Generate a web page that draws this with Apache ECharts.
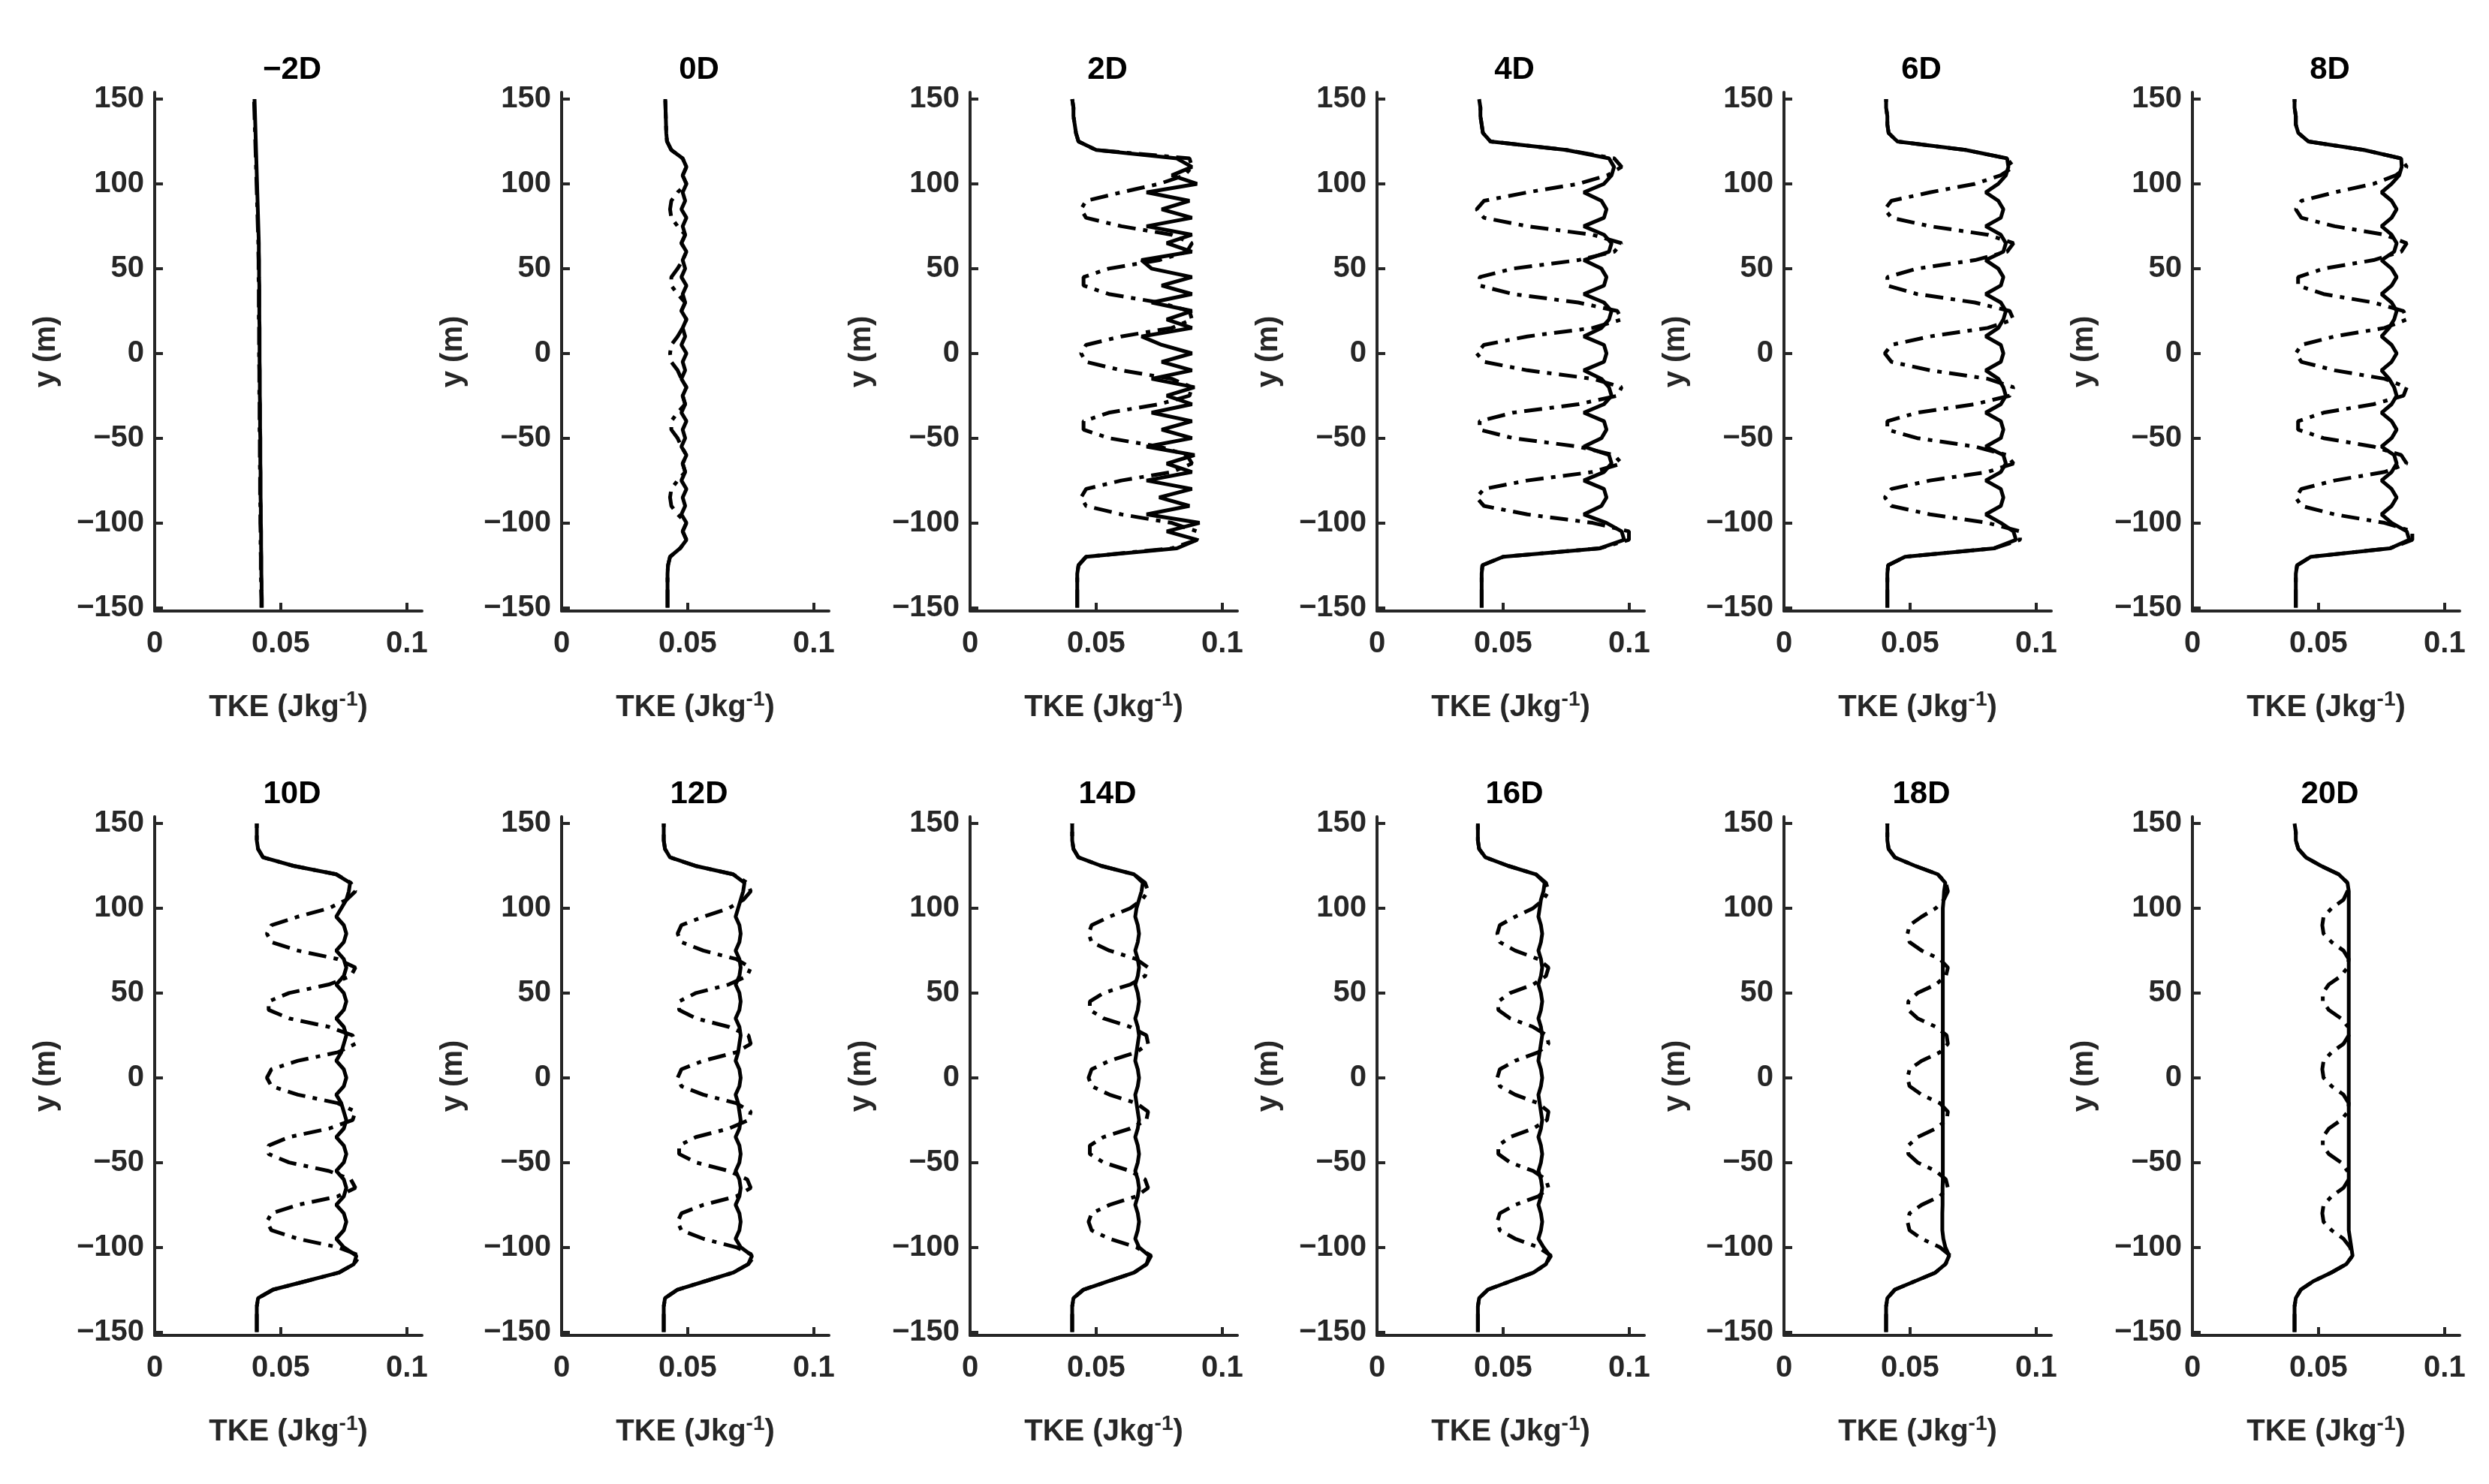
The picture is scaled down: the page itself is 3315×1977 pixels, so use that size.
<!DOCTYPE html>
<html><head><meta charset="utf-8">
<script src="https://cdn.jsdelivr.net/npm/echarts@6/dist/echarts.min.js"></script>
<style>html,body{margin:0;padding:0;background:#fff}#c{width:3315px;height:1977px}</style>
</head><body><div id="c"></div>
<script>
// y positions (m), shared by all profiles
const yPos = [-150,-145,-140,-135,-130,-125,-120,-115,-110,-105,-100,-95,-90,-85,-80,-75,-70,-65,-60,-55,-50,-45,-40,-35,-30,-25,-20,-15,-10,-5,0,5,10,15,20,25,30,35,40,45,50,55,60,65,70,75,80,85,90,95,100,105,110,115,120,125,130,135,140,145,150];
const panelTitles = ['\u22122D','0D','2D','4D','6D','8D','10D','12D','14D','16D','18D','20D'];
const yTicks = [-150,-100,-50,0,50,100,150];
const xTicks = [0,0.05,0.1];

const s_m2 = [.0425,.0425,.0424,.0424,.0423,.0423,.0423,.0422,.0422,.0422,.0421,.0421,.0421,.0420,.0420,.0420,.0420,.0419,.0419,.0419,.0419,.0418,.0418,.0418,.0418,.0417,.0417,.0417,.0417,.0416,.0416,.0416,.0416,.0416,.0415,.0415,.0415,.0415,.0415,.0414,.0414,.0414,.0413,.0413,.0412,.0411,.0410,.0409,.0408,.0407,.0406,.0405,.0404,.0403,.0402,.0401,.0400,.0399,.0398,.0397,.0396];
const d_m2 = [.0423,.0423,.0422,.0422,.0421,.0421,.0421,.0420,.0420,.0420,.0419,.0419,.0419,.0418,.0418,.0418,.0418,.0417,.0417,.0417,.0417,.0416,.0416,.0416,.0416,.0415,.0415,.0415,.0415,.0414,.0414,.0414,.0414,.0414,.0413,.0413,.0413,.0413,.0413,.0412,.0412,.0412,.0411,.0411,.0410,.0409,.0408,.0407,.0406,.0405,.0404,.0403,.0402,.0401,.0400,.0399,.0398,.0397,.0396,.0395,.0394];

const s_0 = [.042,.042,.042,.042,.042,.0422,.043, .047,.0495,.048,.0495,.0475,.049,.048,.0495,.0475,.049,.048,.0495,.0475,.049,.048,.0495,.0475,.049,.048,.0495,.0475,.049,.048, .0495, .0475,.049,.048,.0495,.0475,.049,.048,.0495,.0475,.049,.048,.0495,.0475,.049,.048,.0495,.0475,.049,.048,.0495,.048,.0495,.048, .0435,.0418,.0415,.0414,.0413,.0412,.0411];
const d_0 = [.042,.042,.042,.042,.042,.0422,.043, .047,.0495,.048,.0495,.046,.0435,.043,.0435,.046,.049,.048,.0495,.0475,.046,.0435,.0435,.046,.049,.048,.0495,.0475,.046,.0435, .043, .0435,.046,.048,.0495,.0475,.049,.046,.0435,.0435,.046,.048,.0495,.0475,.049,.046,.0435,.043,.0435,.046,.0495,.048,.0495,.048, .0435,.0418,.0415,.0414,.0413,.0412,.0411];

const s_2 = [.0425,.0425,.0425,.0425,.0425,.043,.046, .082,.09,.078,.091,.07,.087,.075,.088,.07,.088,.078,.089,.07,.088,.076,.088,.072,.088,.078,.089,.072,.088,.076, .088, .076,.068,.088,.078,.088,.072,.088,.076,.088,.072,.068,.088,.078,.088,.07,.088,.076,.087,.07,.09,.08,.088,.082, .05,.043,.042,.0415,.041,.041,.0405];
const d_2 = [.0425,.0425,.0425,.0425,.0425,.043,.046, .08,.09,.09,.08,.06,.046,.044,.046,.06,.08,.088,.086,.075,.055,.045,.045,.055,.075,.087,.088,.08,.06,.046, .044, .046,.06,.08,.088,.087,.075,.055,.045,.045,.055,.075,.086,.088,.08,.06,.046,.044,.046,.06,.075,.085,.088,.087, .05,.043,.042,.0415,.041,.041,.0405];

const s_4 = [.0415,.0415,.0415,.0415,.0415,.0418,.050, .0884,.098,.097,.091,.082,.089,.091,.090,.082,.090,.093,.092,.082,.089,.091,.090,.082,.090,.093,.092,.089,.082,.090, .091, .090,.082,.089,.092,.093,.090,.082,.090,.091,.089,.082,.092,.093,.090,.082,.090,.091,.089,.082,.090,.093,.094,.092, .075,.045,.042,.0415,.041,.041,.0405];
const d_4 = [.0415,.0415,.0415,.0415,.0415,.0418,.050, .0884,.0999,.0999,.0855,.0596,.0424,.0395,.0424,.0596,.0855,.097,.0941,.0798,.0539,.0407,.0407,.0539,.0798,.0953,.097,.0855,.0596,.0424, .0395, .0424,.0596,.0855,.097,.0953,.0798,.0539,.0407,.0407,.0539,.0798,.0941,.097,.0855,.0596,.0424,.0395,.0424,.0596,.0798,.0913,.097,.0941, .075,.045,.042,.0415,.041,.041,.0405];

const s_6 = [.041,.041,.041,.041,.041,.0413,.048, .0834,.092,.091,.086,.080,.086,.087,.086,.080,.086,.088,.087,.080,.086,.087,.086,.080,.086,.088,.087,.085,.080,.086, .087, .086,.080,.085,.087,.088,.086,.080,.086,.087,.085,.080,.087,.088,.086,.080,.086,.087,.085,.080,.085,.088,.089,.0885, .072,.045,.0415,.041,.041,.0405,.0405];
const d_6 = [.041,.041,.041,.041,.041,.0413,.048, .0834,.0936,.0936,.0808,.0579,.0426,.040,.0426,.0579,.0808,.091,.0885,.0757,.0528,.041,.041,.0528,.0757,.0895,.091,.0808,.0579,.0426, .040, .0426,.0579,.0808,.091,.0895,.0757,.0528,.041,.041,.0528,.0757,.0885,.091,.0808,.0579,.0426,.040,.0426,.0579,.0757,.0859,.091,.0885, .072,.045,.0415,.041,.041,.0405,.0405];

const s_8 = [.041,.041,.041,.041,.041,.0415,.047, .0784,.086,.085,.079,.075,.079,.081,.079,.075,.079,.081,.080,.075,.079,.081,.079,.075,.079,.081,.080,.078,.075,.079, .081, .079,.075,.078,.080,.081,.079,.075,.079,.081,.079,.075,.080,.081,.079,.075,.079,.081,.079,.075,.079,.082,.083,.0828, .068,.046,.042,.041,.041,.0405,.0405];
const d_8 = [.041,.041,.041,.041,.041,.0415,.047, .0784,.0872,.0872,.0762,.0564,.0432,.041,.0432,.0564,.0762,.085,.0828,.0718,.052,.0419,.0419,.052,.0718,.0837,.085,.0762,.0564,.0432, .041, .0432,.0564,.0762,.085,.0837,.0718,.052,.0419,.0419,.052,.0718,.0828,.085,.0762,.0564,.0432,.041,.0432,.0564,.0718,.0806,.085,.0828, .068,.046,.042,.041,.041,.0405,.0405];

const s_10 = [.0405,.0405,.0405,.0405,.041,.047,.060, .073,.079,.080,.075,.072,.075,.076,.075,.072,.075,.076,.075,.072,.075,.076,.075,.072,.075,.076,.075,.074,.072,.075, .076, .075,.072,.074,.075,.076,.075,.072,.075,.076,.075,.072,.075,.076,.075,.072,.075,.076,.075,.072,.074,.076,.077,.0775, .072,.055,.043,.041,.0405,.0405,.0405];
const d_10 = [.0405,.0405,.0405,.0405,.041,.047,.060, .073,.079,.0814,.0726,.0568,.0463,.0445,.0463,.0568,.0726,.0796,.0778,.0691,.0533,.0452,.0452,.0533,.0691,.0785,.0796,.0726,.0568,.0463, .0445, .0463,.0568,.0726,.0796,.0785,.0691,.0533,.0452,.0452,.0533,.0691,.0778,.0796,.0726,.0568,.0463,.0445,.0463,.0568,.0691,.0761,.0796,.0778, .072,.055,.043,.041,.0405,.0405,.0405];

const s_12 = [.0405,.0405,.0405,.0405,.041,.046,.057, .068,.074,.0755,.071,.069,.0705,.071,.0705,.069,.0705,.071,.0705,.069,.0705,.071,.0705,.069,.0705,.071,.0705,.070,.069,.0705, .071, .0705,.069,.070,.0705,.071,.0705,.069,.0705,.071,.0705,.069,.0705,.071,.0705,.069,.0705,.071,.0705,.069,.070,.071,.072,.0725, .068,.053,.043,.041,.0405,.0405,.0405];
const d_12 = [.0405,.0405,.0405,.0405,.041,.046,.057, .068,.074,.0765,.0692,.0562,.0475,.046,.0475,.0562,.0692,.075,.0736,.0663,.0533,.0466,.0466,.0533,.0663,.0741,.075,.0692,.0562,.0475, .046, .0475,.0562,.0692,.075,.0741,.0663,.0533,.0466,.0466,.0533,.0663,.0736,.075,.0692,.0562,.0475,.046,.0475,.0562,.0663,.0721,.075,.0736, .068,.053,.043,.041,.0405,.0405,.0405];

const s_14 = [.0405,.0405,.0405,.0405,.041,.045,.055, .065,.070,.071,.067,.0655,.0665,.067,.0665,.0655,.0665,.067,.0665,.0655,.0665,.067,.0665,.0655,.0665,.067,.0665,.066,.0655,.0665, .067, .0665,.0655,.066,.0665,.067,.0665,.0655,.0665,.067,.0665,.0655,.0665,.067,.0665,.0655,.0665,.067,.0665,.0655,.066,.067,.068,.0685, .065,.052,.043,.041,.0405,.0405,.0405];
const d_14 = [.0405,.0405,.0405,.0405,.041,.045,.055, .065,.070,.0718,.0659,.0553,.0482,.047,.0482,.0553,.0659,.0706,.0694,.0635,.0529,.0475,.0475,.0529,.0635,.0699,.0706,.0659,.0553,.0482, .047, .0482,.0553,.0659,.0706,.0699,.0635,.0529,.0475,.0475,.0529,.0635,.0694,.0706,.0659,.0553,.0482,.047,.0482,.0553,.0635,.0682,.0706,.0694, .065,.052,.043,.041,.0405,.0405,.0405];

const s_16 = [.040,.040,.040,.040,.0405,.044,.053, .062,.067,.0685,.066,.064,.065,.0655,.065,.064,.065,.0655,.065,.064,.065,.0655,.065,.064,.065,.0655,.065,.0645,.064,.065, .0655, .065,.064,.0645,.065,.0655,.065,.064,.065,.0655,.065,.064,.065,.0655,.065,.064,.065,.0655,.065,.064,.0645,.065,.066,.0665, .063,.052,.043,.0405,.040,.040,.040];
const d_16 = [.040,.040,.040,.040,.0405,.044,.053, .062,.067,.069,.0639,.0548,.0487,.0477,.0487,.0548,.0639,.068,.067,.0619,.0528,.0481,.0481,.0528,.0619,.0674,.068,.0639,.0548,.0487, .0477, .0487,.0548,.0639,.068,.0674,.0619,.0528,.0481,.0481,.0528,.0619,.067,.068,.0639,.0548,.0487,.0477,.0487,.0548,.0619,.066,.068,.067, .063,.052,.043,.0405,.040,.040,.040];

const s_18 = [.0405,.0405,.0405,.0405,.041,.044,.052, .060,.064,.0655,.064,.0632,.0628,.0628,.0628,.0629,.0629,.0629,.063,.063,.063,.063,.063,.063,.063,.063,.063,.063,.063,.063, .063, .063,.063,.063,.063,.063,.063,.063,.063,.063,.063,.063,.063,.063,.063,.063,.063,.063,.063,.063,.063,.0633,.0635,.064, .061,.052,.044,.0415,.041,.041,.041];
const d_18 = [.0405,.0405,.0405,.0405,.041,.044,.052, .060,.064,.066,.0618,.0546,.0498,.049,.0498,.0546,.0618,.065,.0642,.0602,.053,.0493,.0493,.053,.0602,.0645,.065,.0618,.0546,.0498, .049, .0498,.0546,.0618,.065,.0645,.0602,.053,.0493,.0493,.053,.0602,.0642,.065,.0618,.0546,.0498,.049,.0498,.0546,.0602,.0634,.065,.0642, .061,.052,.044,.0415,.041,.041,.041];

const s_20 = [.0405,.0405,.0405,.0405,.041,.043,.048, .055,.061,.0635,.063,.0625,.062,.062,.062,.062,.062,.062,.062,.062,.062,.062,.062,.062,.062,.062,.062,.062,.062,.062, .062, .062,.062,.062,.062,.062,.062,.062,.062,.062,.062,.062,.062,.062,.062,.062,.062,.062,.062,.062,.062,.062,.062,.0615, .058,.051,.045,.042,.041,.041,.0405];
const d_20 = [.0405,.0405,.0405,.0405,.041,.043,.048, .055,.061,.0635,.0625,.0599,.0552,.052,.0515,.052,.0552,.0599,.062,.0615,.0589,.0541,.0517,.0517,.0541,.0589,.0617,.062,.0599,.0552, .052, .0515,.052,.0552,.0599,.062,.0617,.0589,.0541,.0517,.0517,.0541,.0589,.0615,.062,.0599,.0552,.052,.0515,.052,.0552,.0599,.0615,.0615, .058,.051,.045,.042,.041,.041,.0405];

const solidSets = [s_m2,s_0,s_2,s_4,s_6,s_8,s_10,s_12,s_14,s_16,s_18,s_20];
const dashSets  = [d_m2,d_0,d_2,d_4,d_6,d_8,d_10,d_12,d_14,d_16,d_18,d_20];

const colLeft = [206,748,1292,1834,2376,2920];
const rowTop = [123,1088];
const GW = 356, GH = 691;
const AX = '#262626';
const FONT = '"Liberation Sans", Arial, sans-serif';
const fmtNum = v => String(v).replace('-', '\u2212');

const grid=[], xAxis=[], yAxis=[], series=[], title=[];
for (let p=0;p<12;p++){
  const r=Math.floor(p/6), c=p%6;
  grid.push({left:colLeft[c], top:rowTop[r], width:GW, height:GH});
  title.push({text:panelTitles[p], left:colLeft[c]+GW/2, top:rowTop[r]-56, textAlign:'center',
    textStyle:{fontFamily:FONT,fontWeight:'bold',fontSize:42,color:'#000'}});
  xAxis.push({type:'value', gridIndex:p, min:0, max:0.106,
    axisLine:{show:true,onZero:false,lineStyle:{color:AX,width:4}},
    axisTick:{show:true,inside:true,length:11,lineStyle:{color:AX,width:4},customValues:xTicks},
    axisLabel:{customValues:xTicks, margin:24, fontFamily:FONT,fontWeight:'bold',fontSize:40,color:AX, formatter:v=>fmtNum(v)},
    splitLine:{show:false},
    name:'TKE (Jkg{sup|-1})', nameLocation:'middle', nameGap:104,
    nameTextStyle:{fontFamily:FONT,fontWeight:'bold',fontSize:40,color:AX,
      rich:{sup:{fontFamily:FONT,fontWeight:'bold',fontSize:28,color:AX,verticalAlign:'top',padding:[0,0,22,0]}}}
  });
  yAxis.push({type:'value', gridIndex:p, min:-152, max:154,
    axisLine:{show:true,onZero:false,lineStyle:{color:AX,width:4}},
    axisTick:{show:true,inside:true,length:11,lineStyle:{color:AX,width:4},customValues:yTicks},
    axisLabel:{customValues:yTicks, margin:14, fontFamily:FONT,fontWeight:'bold',fontSize:40,color:AX, formatter:v=>fmtNum(v)},
    splitLine:{show:false},
    name:'y (m)', nameLocation:'middle', nameGap:124, nameRotate:90,
    nameTextStyle:{fontFamily:FONT,fontWeight:'bold',fontSize:40,color:AX}
  });
  series.push({type:'line', xAxisIndex:p, yAxisIndex:p, showSymbol:false, silent:true,
    data:yPos.map((y,i)=>[dashSets[p][i],y]),
    lineStyle:{color:'#000',width:5,type:[24,10,6,10]}, z:2});
  series.push({type:'line', xAxisIndex:p, yAxisIndex:p, showSymbol:false, silent:true,
    data:yPos.map((y,i)=>[solidSets[p][i],y]),
    lineStyle:{color:'#000',width:5,type:'solid'}, z:3});
}
const chart = echarts.init(document.getElementById('c'));
chart.setOption({backgroundColor:'#fff', animation:false, title, grid, xAxis, yAxis, series});
</script></body></html>
